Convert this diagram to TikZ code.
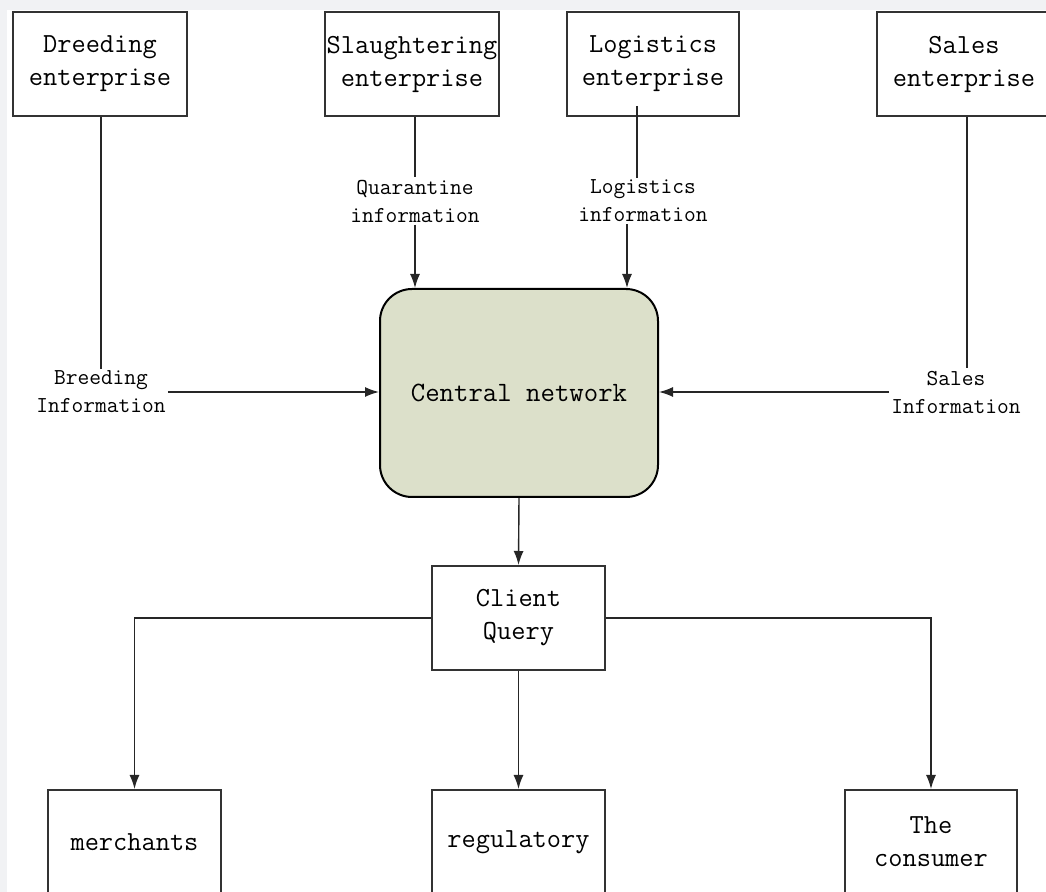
\documentclass[tikz,border=0pt]{standalone}
\usetikzlibrary{arrows.meta,positioning}
\definecolor{strip}{HTML}{F1F2F4}
\definecolor{netfill}{HTML}{DCE0CA}
\newcommand\unitfont{\ttfamily\fontsize{13.8}{16.5}\selectfont}
\newcommand\infofont{\ttfamily\fontsize{11.4}{14}\selectfont}
\begin{document}
\begin{tikzpicture}[x=0.5pt,y=-0.5pt]

    \tikzset{
      unit/.style={
        draw=black!80,
        line width=1pt,
        minimum width=87pt,
        minimum height=52pt,
        inner sep=0pt,
        align=center,
        font=\unitfont,
      },
      info/.style={inner sep=1pt, align=center, font=\infofont},
      link/.style={line width=0.7pt, draw=black!85},
      flow/.style={link, -{Latex[length=7pt,width=5pt]}},
    }
    \useasboundingbox (0,0) rectangle (1046,892);
    \clip (0,0) rectangle (1046,892);
    \fill[strip] (0,0) rectangle (1046,10);
    \fill[strip] (0,0) rectangle (7,892);

    % enterprises
    \node[unit] (brd) at (100,64) {Dreeding\\enterprise};
    \node[unit] (slg) at (412,64) {Slaughtering\\enterprise};
    \node[unit, minimum width=86pt] (lgs) at (653,64) {Logistics\\enterprise};
    \node[unit] (sls) at (964,64) {Sales\\enterprise};

    % information labels
    \node[info] (qinf) at (415,201) {Quarantine\\information};
    \node[info] (linf) at (643,201) {Logistics\\information};
    \node[info] (binf) at (101,392) {Breeding\\Information};
    \node[info] (sinf) at (956,392) {Sales\\Information};

    \node[unit, draw=black, minimum width=139pt, minimum height=104pt, rounded corners=16pt,
      fill=netfill, font=\ttfamily\fontsize{14}{16.5}\selectfont] (cen) at (519,393) {Central network};

    \node[unit, minimum width=86.5pt] (cq) at (518.5,618) {Client\\Query};
    \node[unit, minimum width=86.5pt] (mer) at (134.5,842) {merchants};
    \node[unit, minimum width=86.5pt] (reg) at (518.5,842) {regulatory};
    \node[unit, minimum width=86pt] (con) at (931,842) {The\\consumer};

    \coordinate (lgsfoot) at (637,106);

    \draw[link] (brd.south -| binf.north) -- (binf.north);
    \draw[link] (slg.south -| qinf.north) -- (qinf.north);
    \draw[link] (lgsfoot) -- (lgsfoot |- linf.north);
    \draw[link] ([xshift=5.5pt]sinf.north |- sls.south) -- ([xshift=5.5pt]sinf.north);

    \draw[flow] (qinf.south) -- (qinf.south |- cen.north);
    \draw[flow] ([xshift=-8pt]linf.south) -- ([xshift=-8pt]linf.south |- cen.north);
    \draw[flow] (binf.east) -- (binf.east -| cen.west);
    \draw[flow] (sinf.west) -- (sinf.west -| cen.east);

    \draw[flow] (cen.south) -- (cq.north);
    \draw[flow] (cq.west) -| (mer.north);
    \draw[flow] (cq.south) -- (reg.north);
    \draw[flow] (cq.east) -| (con.north);

\end{tikzpicture}
\end{document}
